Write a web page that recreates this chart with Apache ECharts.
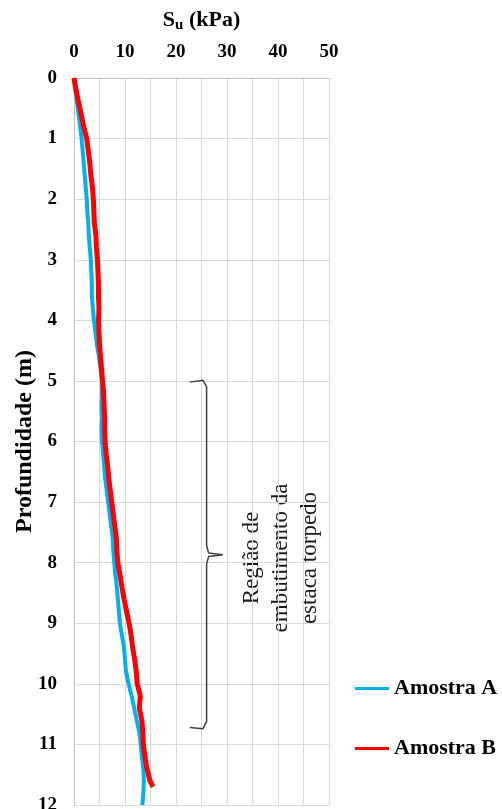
<!DOCTYPE html>
<html>
<head>
<meta charset="utf-8">
<script src="https://cdn.jsdelivr.net/npm/echarts@6/dist/echarts.min.js"></script>
<style>html,body{margin:0;padding:0;background:#fff;}#c{width:502px;height:809px;}</style>
</head>
<body>
<div id="c"></div>
<script>
// Depth (m) and undrained shear strength Su (kPa)
var depthA = [0,0.2,0.4,0.6,0.8,1.0,1.2,1.4,1.6,1.8,2.0,2.2,2.4,2.6,2.8,3.0,3.2,3.4,3.6,3.8,4.0,4.2,4.4,4.6,4.8,5.0,5.2,5.4,5.6,5.8,6.0,6.2,6.4,6.6,6.8,7.0,7.2,7.4,7.6,7.8,8.0,8.2,8.4,8.6,8.8,9.0,9.2,9.4,9.6,9.8,10.0,10.2,10.4,10.6,10.8,11.0,11.2,11.4,11.6,11.8,12.0];
var suA    = [0,0.3,0.6,0.9,1.2,1.5,1.7,1.9,2.1,2.3,2.5,2.6,2.8,2.9,3.1,3.3,3.4,3.5,3.5,3.7,3.9,4.2,4.5,4.9,5.2,5.5,5.5,5.4,5.5,5.4,5.5,5.7,5.9,6.1,6.4,6.7,7.0,7.3,7.6,7.7,7.9,8.1,8.4,8.6,8.8,9.0,9.4,9.8,10.0,10.2,10.7,11.3,11.8,12.3,12.8,13.1,13.3,13.6,13.7,13.6,13.4];
var depthB = [0,0.2,0.4,0.6,0.8,1.0,1.2,1.4,1.6,1.8,2.0,2.2,2.4,2.6,2.8,3.0,3.2,3.4,3.6,3.8,4.0,4.2,4.4,4.6,4.8,5.0,5.2,5.4,5.6,5.8,6.0,6.2,6.4,6.6,6.8,7.0,7.2,7.4,7.6,7.8,8.0,8.2,8.4,8.6,8.8,9.0,9.2,9.4,9.6,9.8,10.0,10.2,10.4,10.6,10.8,11.0,11.2,11.4,11.6,11.7];
var suB    = [0,0.4,0.9,1.4,1.9,2.5,2.8,3.1,3.3,3.6,3.8,3.9,4.0,4.3,4.4,4.6,4.7,4.8,4.8,4.9,4.8,4.9,5.0,5.2,5.4,5.6,5.8,5.9,6.0,6.0,6.1,6.3,6.6,6.8,7.1,7.4,7.7,8.0,8.3,8.4,8.6,9.0,9.4,9.8,10.3,10.8,11.2,11.5,11.9,12.2,12.4,13.0,12.8,13.3,13.5,13.6,13.9,14.3,14.9,15.5];
// Curly brace marking the embedment region (Su, depth)
var braceSu    = [22.7,25.3,26.0,26.0,26.4,29.2,26.4,26.0,26.0,25.3,22.7];
var braceDepth = [5.02,4.99,5.10,7.72,7.84,7.87,7.90,8.02,10.62,10.74,10.72];
var seriesNames = ['Amostra A','Amostra B'];
var annotationLines = ['Região de','embutimento da','estaca torpedo'];

function pairs(xs, ys){ return xs.map(function(x,i){ return [x, ys[i]]; }); }

var serif = "'Liberation Serif','Times New Roman',serif";
var chart = echarts.init(document.getElementById('c'));
chart.setOption({
  animation:false,
  backgroundColor:'#fff',
  grid:{left:74, right:173, top:78, bottom:4, containLabel:false, outerBoundsMode:'none'},
  legend:{
    orient:'vertical', left:350, top:672,
    data:seriesNames,
    itemWidth:34, itemHeight:14, itemGap:37,
    icon:'path://M0,0 L34,0 L34,3 L0,3 Z',
    textStyle:{fontFamily:serif, fontWeight:'bold', fontSize:22, color:'#000', lineHeight:23}
  },
  xAxis:{
    type:'value', position:'top', min:0, max:50, interval:10,
    name:'{b|S}{s|u}{b| (kPa)}', nameLocation:'middle', nameGap:45, nameMoveOverlap:false,
    nameTextStyle:{rich:{
      b:{fontFamily:serif, fontWeight:'bold', fontSize:22, color:'#000', lineHeight:24},
      s:{fontFamily:serif, fontWeight:'bold', fontSize:15, color:'#000', verticalAlign:'bottom', padding:[10,0,0,0]}
    }},
    axisLine:{show:true, lineStyle:{color:'#bfbfbf', width:1}},
    axisTick:{show:false},
    axisLabel:{fontFamily:serif, fontWeight:'bold', fontSize:19, color:'#000', margin:16},
    splitLine:{show:true, lineStyle:{color:'#d9d9d9', width:1}},
    minorTick:{show:false, splitNumber:2},
    minorSplitLine:{show:true, lineStyle:{color:'#d9d9d9', width:1}}
  },
  yAxis:{
    type:'value', inverse:true, min:0, max:12, interval:1,
    name:'Profundidade (m)', nameLocation:'middle', nameGap:37, nameRotate:90, nameMoveOverlap:false,
    nameTextStyle:{fontFamily:serif, fontWeight:'bold', fontSize:24, color:'#000'},
    axisLine:{show:true, lineStyle:{color:'#bfbfbf', width:1}},
    axisTick:{show:false},
    axisLabel:{fontFamily:serif, fontWeight:'bold', fontSize:19, color:'#000', margin:17},
    splitLine:{show:true, lineStyle:{color:'#d9d9d9', width:1}}
  },
  series:[
    {name:seriesNames[0], type:'line', data:pairs(suA, depthA), showSymbol:false, symbol:'none',
     lineStyle:{color:'#00b0f0', width:4}, itemStyle:{color:'#00b0f0'}, z:3},
    {name:seriesNames[1], type:'line', data:pairs(suB, depthB), showSymbol:false, symbol:'none',
     lineStyle:{color:'#ff0000', width:5}, itemStyle:{color:'#ff0000'}, z:4},
    {name:'brace', type:'line', data:pairs(braceSu, braceDepth), showSymbol:false, symbol:'none', silent:true,
     lineStyle:{color:'#404040', width:1.5}, z:5}
  ],
  graphic:[{
    type:'text', x:281, y:558, rotation:Math.PI/2, silent:true,
    style:{text:annotationLines.join('\n'), fontFamily:serif, fontSize:23, lineHeight:29,
           fill:'#1a1a1a', align:'center', verticalAlign:'middle'}
  }]
});
</script>
</body>
</html>
